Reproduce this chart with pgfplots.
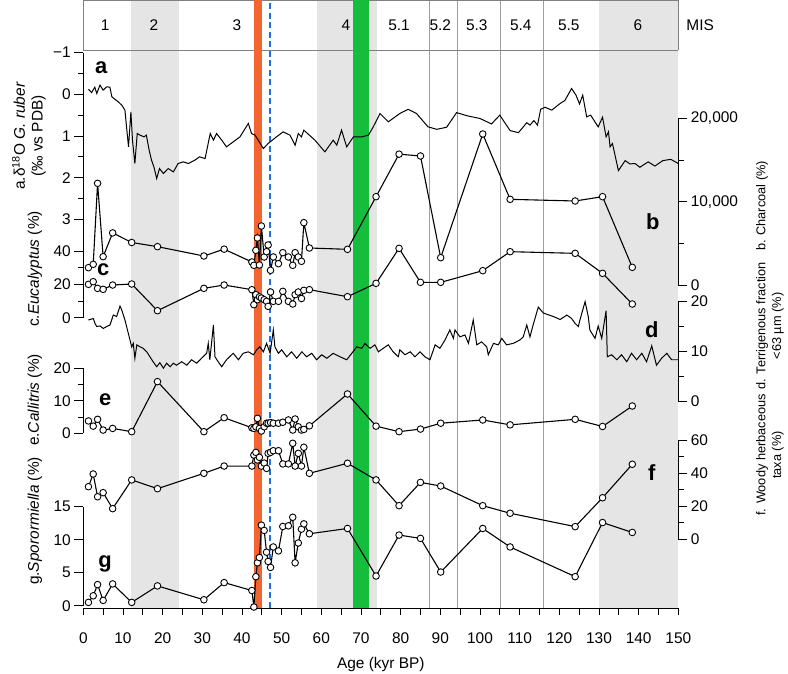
\documentclass[border=0pt]{standalone}
\usepackage{fontspec}
\setmainfont{Liberation Sans}
\usepackage{pgfplots}
\usepackage{pgfplotstable}
\pgfplotsset{compat=1.18}
\definecolor{misgray}{gray}{0.9}
\definecolor{vline}{gray}{0.62}
\definecolor{boxl}{gray}{0.5}
\definecolor{orng}{RGB}{242,100,50}
\definecolor{grn}{RGB}{20,190,60}
\definecolor{blu}{RGB}{30,110,230}
\newcommand\fs{\fontsize{15.5}{18}\selectfont}
\newcommand\fr{\fontsize{12.8}{16}\selectfont}
\tikzset{spine/.style={black, line width=0.9pt}}

\pgfplotstableread{
x b c e f g
1.3 2080 20.0 3.8 31.7 0.5
2.5 2480 21.6 2.2 39.4 1.5
3.6 12200 17.6 4.3 25.6 3.2
5.0 3400 17.0 1.0 28.1 0.8
7.4 6250 19.6 1.5 18.4 3.3
12.2 5100 20.2 0.5 35.8 0.5
18.7 4600 4.2 15.9 30.5 3.0
30.4 3480 17.6 0.5 39.8 0.9
35.5 4300 19.6 4.8 44.2 3.5
42.5 2760 16.8 1.7 44.2 2.3
43.0 2360 7.8 1.5 50.9 -0.2
43.5 4160 13.8 2.0 52.5 4.4
43.9 5640 10.8 4.6 47.9 6.5
44.4 2400 12.5 1.5 49.5 7.3
44.9 7080 11.8 0.7 44.2 12.2
45.6 3360 10.8 2.0 46.0 11.4
46.2 4000 9.8 3.1 42.8 8.1
46.6 4800 6.8 3.1 51.9 6.7
47.2 1760 15.4 3.3 52.5 5.8
47.9 3360 9.8 3.1 53.5 8.9
49.2 2560 9.8 3.1 53.5 8.3
50.3 3880 15.8 3.4 45.5 12.0
51.7 3360 9.8 4.1 45.5 12.1
52.8 2360 8.2 1.0 58.0 13.4
53.4 3880 13.8 4.4 44.2 6.5
54.2 3360 15.4 2.0 51.9 9.5
55.0 2840 11.5 1.0 44.2 11.6
55.6 7480 16.4 1.2 55.6 12.4
57.0 4440 16.8 2.3 39.8 10.9
66.6 4280 12.6 12.1 45.9 11.7
73.8 10600 20.6 2.2 35.8 4.5
79.6 15700 41.6 0.5 20.2 10.7
85.0 15480 21.2 1.3 34.3 10.2
90.1 3280 21.2 3.1 32.1 5.1
100.7 18120 28.2 4.1 20.2 11.7
107.6 10280 39.6 2.6 15.6 8.9
124.0 10080 38.6 4.3 7.5 4.4
130.9 10600 26.6 2.1 25.0 12.6
138.4 2120 8.2 8.4 45.3 11.1
}\pts

\pgfplotstableread{
x v
1.3 -0.12
2.1 -0.04
2.9 -0.17
3.4 -0.02
4.2 -0.22
5.0 -0.10
5.9 -0.18
6.7 -0.17
7.2 0.06
8.0 0.12
8.8 0.18
9.7 0.26
10.5 0.38
10.9 0.78
11.4 1.26
12.0 0.42
12.4 1.10
13.0 1.66
13.6 0.94
14.3 0.98
15.3 1.02
15.9 0.98
16.6 1.34
17.2 1.58
17.8 1.74
18.5 2.02
19.2 1.78
20.2 1.90
21.4 1.78
22.7 1.86
23.9 1.66
25.2 1.62
26.5 1.66
28.1 1.58
29.3 1.50
30.7 1.54
32.0 0.94
32.8 1.10
33.6 0.94
34.9 1.10
36.1 1.26
37.8 1.14
39.5 1.02
41.6 0.70
42.4 0.94
43.3 0.98
44.1 1.10
45.4 1.30
46.6 1.18
48.7 1.02
50.4 0.90
52.1 0.98
53.4 1.22
54.2 0.94
55.0 1.02
55.6 0.86
58.4 1.10
60.9 1.38
63.0 1.10
63.9 1.22
65.1 0.86
66.4 1.26
68.1 1.02
70.2 1.02
71.9 0.98
73.1 0.78
74.8 0.46
76.9 0.66
79.8 0.46
81.9 0.36
84.0 0.46
86.9 0.78
89.1 0.84
91.6 0.79
94.1 0.44
97.0 0.52
100.0 0.58
102.9 0.71
105.0 0.50
107.6 0.87
109.7 0.92
111.8 0.68
112.6 0.74
113.6 0.63
114.5 0.74
115.3 0.36
116.4 0.31
118.1 0.38
120.2 0.22
121.4 0.15
123.1 -0.14
124.2 0.02
125.1 0.23
125.9 0.02
126.9 0.54
127.9 0.50
129.8 0.78
130.9 0.55
131.8 1.02
132.4 0.90
132.8 1.26
133.4 1.18
134.9 1.83
136.6 1.59
137.8 1.67
139.1 1.66
140.3 1.75
142.4 1.62
144.1 1.72
146.1 1.59
148.1 1.56
150.0 1.66
}\adata

\pgfplotstableread{
x v
1.26 16.3
2.52 16.6
2.95 15.6
3.38 15.0
4.21 15.1
5.04 14.6
5.9 15.0
6.73 15.3
7.56 17.3
8.4 17.0
9.25 19.1
9.7 18.3
10.5 16.3
11.35 13.6
12.2 10.9
12.6 11.6
13.0 8.6
13.5 11.3
14.3 10.9
15.1 10.6
16.0 9.9
16.8 8.9
17.6 7.9
18.5 6.9
19.3 7.7
20.2 6.6
21.0 7.6
21.9 6.9
22.7 7.6
23.5 7.2
24.8 7.9
26.1 7.2
27.3 8.3
28.6 7.6
29.8 8.6
31.1 9.6
31.5 11.6
31.9 8.3
32.8 15.3
33.2 8.9
34.0 7.9
34.9 6.9
36.1 8.3
37.8 9.6
39.1 8.3
40.3 9.6
41.6 9.9
42.9 9.3
43.7 10.3
44.5 10.9
45.4 9.9
46.2 11.6
47.1 9.6
47.9 14.3
48.3 10.9
49.2 9.6
50.0 10.3
51.3 8.9
52.5 9.9
53.8 8.6
55.1 9.9
56.3 8.9
57.6 9.6
58.8 8.3
60.1 9.3
61.4 8.6
63.0 9.6
64.7 8.9
66.4 8.3
67.7 9.6
68.9 10.9
70.2 10.6
71.0 11.6
72.3 10.6
73.5 11.3
74.4 9.9
75.6 10.6
76.9 11.3
78.1 9.9
79.4 8.9
79.8 10.3
81.1 9.3
82.4 9.9
83.6 8.9
84.9 9.9
86.1 8.9
87.4 8.3
88.7 11.3
89.9 10.6
91.2 12.3
92.4 14.3
93.3 12.6
93.7 14.3
94.96 12.9
96.2 13.3
97.1 11.6
98.3 16.3
99.2 11.3
100.4 11.9
101.7 10.9
102.1 9.3
103.4 11.6
104.6 11.3
105.5 12.6
106.7 11.3
108.4 11.6
110.1 12.3
110.9 12.9
111.8 15.3
112.6 12.9
113.4 15.3
114.7 18.9
116.0 17.7
118.5 17.0
120.2 16.4
121.9 17.3
123.1 16.6
124.0 15.6
124.8 15.0
125.2 16.3
126.5 20.0
127.3 17.0
127.7 14.3
129.0 12.6
129.8 15.1
130.7 12.6
131.8 18.2
132.1 8.9
133.2 9.3
134.5 8.3
135.7 9.3
137.0 7.9
138.2 9.6
139.5 8.3
140.8 9.6
142.0 7.9
143.3 11.1
144.5 7.2
145.8 8.6
147.1 9.6
148.3 8.3
150.0 8.3
}\ddata

\pgfplotsset{
  base/.style={scale only axis, width=595bp, height=608bp, at={(83.3bp,66bp)},
    anchor=south west, xmin=0, xmax=150, clip=false,
    /pgf/number format/assume math mode=true, tick align=outside,
    tick style={black, line width=0.9pt}, ticklabel style={font=\fs}},
  ov/.style={base, axis x line=none, y axis line style={draw=none},
    major tick length=9bp, minor tick length=5.5bp, scaled y ticks=false},
  L/.style={ov, axis y line*=left},
  R/.style={ov, axis y line*=right},
  ser/.style={black, line width=1.1pt, mark=*, mark size=3.3bp,
    mark options={fill=white, draw=black, line width=0.9pt, solid}},
  wig/.style={black, line width=1.0pt, mark=none},
}

\begin{document}
\begin{tikzpicture}
\useasboundingbox (0,0) rectangle (788bp,674bp);

% background, MIS box, x axis
\begin{axis}[base, ymin=0, ymax=608, axis y line=none, axis x line*=bottom,
  axis on top, xtick={0,10,...,150}, minor xtick={5,15,...,145},
  major tick length=7bp, minor tick length=7bp,
  x axis line style={line width=0.9pt}, xticklabel style={yshift=-14bp}]
\addplot[fill=misgray, draw=none] coordinates {(12,0) (12,608) (24,608) (24,0)} -- cycle;
\addplot[fill=misgray, draw=none] coordinates {(59,0) (59,608) (74,608) (74,0)} -- cycle;
\addplot[fill=misgray, draw=none] coordinates {(130,0) (130,608) (150,608) (150,0)} -- cycle;
\addplot[vline, line width=0.7pt] coordinates {(87.2,0) (87.2,608)};
\addplot[vline, line width=0.7pt] coordinates {(94.2,0) (94.2,608)};
\addplot[vline, line width=0.7pt] coordinates {(105.2,0) (105.2,608)};
\addplot[vline, line width=0.7pt] coordinates {(116.1,0) (116.1,608)};
\addplot[boxl, line width=0.8pt] coordinates {(0,558) (150,558)};
\addplot[boxl, line width=0.8pt] coordinates {(0,607.5) (150,607.5)};
\addplot[boxl, line width=0.8pt] coordinates {(0,558) (0,608)};
\addplot[boxl, line width=0.8pt] coordinates {(150,558) (150,608)};
\addplot[fill=orng, draw=none] coordinates {(43.1,0) (43.1,608) (45.1,608) (45.1,0)} -- cycle;
\addplot[fill=grn, draw=none] coordinates {(68,0) (68,608) (72.1,608) (72.1,0)} -- cycle;
\addplot[blu, line width=1.8pt, dash pattern=on 6bp off 3.5bp] coordinates {(47,0) (47,608)};
% MIS labels
\node[font=\fs] at (axis cs:5.5,582.5) {1};
\node[font=\fs] at (axis cs:17.8,582.5) {2};
\node[font=\fs] at (axis cs:38.7,582.5) {3};
\node[font=\fs] at (axis cs:66.2,582.5) {4};
\node[font=\fs] at (axis cs:79.6,582.5) {5.1};
\node[font=\fs] at (axis cs:90.0,582.5) {5.2};
\node[font=\fs] at (axis cs:99.2,582.5) {5.3};
\node[font=\fs] at (axis cs:110.3,582.5) {5.4};
\node[font=\fs] at (axis cs:122.4,582.5) {5.5};
\node[font=\fs] at (axis cs:139.8,582.5) {6};
\node[font=\fs] at (axis cs:155.5,582.5) {MIS};
% panel letters
\node[font=\bfseries\fontsize{22}{24}\selectfont] at (axis cs:4.5,540) {a};
\node[font=\bfseries\fontsize{22}{24}\selectfont] at (axis cs:143.6,386) {b};
\node[font=\bfseries\fontsize{22}{24}\selectfont] at (axis cs:5.0,338) {c};
\node[font=\bfseries\fontsize{22}{24}\selectfont] at (axis cs:143.3,278) {d};
\node[font=\bfseries\fontsize{22}{24}\selectfont] at (axis cs:5.5,208) {e};
\node[font=\bfseries\fontsize{22}{24}\selectfont] at (axis cs:143.3,135) {f};
\node[font=\bfseries\fontsize{22}{24}\selectfont] at (axis cs:5.5,44) {g};
% axis titles
\node[font=\fs] at (axis cs:75,-57) {Age (kyr BP)};
\node[font=\fs, rotate=90, align=center] at (axis cs:-13.7,472) {a.δ\textsuperscript{18}O \textit{G. ruber}\\(‰ vs PDB)};
\node[font=\fs, rotate=90] at (axis cs:-12.2,339) {c.\textit{Eucalyptus} (\%)};
\node[font=\fs, rotate=90] at (axis cs:-12.2,208) {e.\textit{Callitris} (\%)};
\node[font=\fs, rotate=90] at (axis cs:-12.2,87) {g.\textit{Sporormiella} (\%)};
\node[font=\fr, rotate=90] at (axis cs:171.1,402) {b. Charcoal (\%)};
\node[font=\fr, rotate=90, align=center] at (axis cs:173.1,282) {d. Terrigenous fraction\\<63 µm (\%)};
\node[font=\fr, rotate=90, align=center] at (axis cs:173.1,153) {f. Woody herbaceous\\taxa (\%)};
\end{axis}

% a: d18O
\begin{axis}[L, y dir=reverse, ymin=-2.2614, ymax=12.319,
  ytick={-1,0,1,2,3}, yticklabels={−1,0,1,2,3}, minor ytick={-0.5,0.5,1.5,2.5}]
\draw[spine] (axis cs:0,-1) -- (axis cs:0,3.35);
\addplot[wig] table[x=x,y=v] {\adata};
\end{axis}

% b: charcoal
\begin{axis}[R, ymin=-38760, ymax=34200,
  ytick={0,10000,20000}, yticklabels={0,{10,000},{20,000}}, minor ytick={5000,15000}]
\draw[spine] (axis cs:150,0) -- (axis cs:150,20000);
\addplot[ser] table[x=x,y=b] {\pts};
\end{axis}

% c: Eucalyptus
\begin{axis}[L, ymin=-174.15, ymax=190.58,
  ytick={0,20,40}, yticklabels={0,20,40}, minor ytick={10,30}]
\draw[spine] (axis cs:0,0) -- (axis cs:0,50);
\addplot[ser] table[x=x,y=c] {\pts};
\end{axis}

% d: terrigenous fraction
\begin{axis}[R, ymin=-41.68, ymax=80.73,
  ytick={0,10,20}, yticklabels={0,10,20}, minor ytick={5,15}]
\draw[spine] (axis cs:150,0) -- (axis cs:150,20);
\addplot[wig] table[x=x,y=v] {\ddata};
\end{axis}

% e: Callitris
\begin{axis}[L, ymin=-53.75, ymax=133.32,
  ytick={0,10,20}, yticklabels={0,10,20}, minor ytick={5,15}]
\draw[spine] (axis cs:0,0) -- (axis cs:0,20);
\addplot[ser] table[x=x,y=e] {\pts};
\end{axis}

% f: woody herbaceous
\begin{axis}[R, ymin=-41.82, ymax=326.67,
  ytick={0,20,40,60}, yticklabels={0,20,40,60}, minor ytick={10,30,50}]
\draw[spine] (axis cs:150,0) -- (axis cs:150,60);
\addplot[ser] table[x=x,y=f] {\pts};
\end{axis}

% g: Sporormiella
\begin{axis}[L, ymin=-0.348, ymax=91.77,
  ytick={0,5,10,15}, yticklabels={0,5,10,15}]
\draw[spine] (axis cs:0,0) -- (axis cs:0,15);
\addplot[ser] table[x=x,y=g] {\pts};
\end{axis}
\end{tikzpicture}
\end{document}
